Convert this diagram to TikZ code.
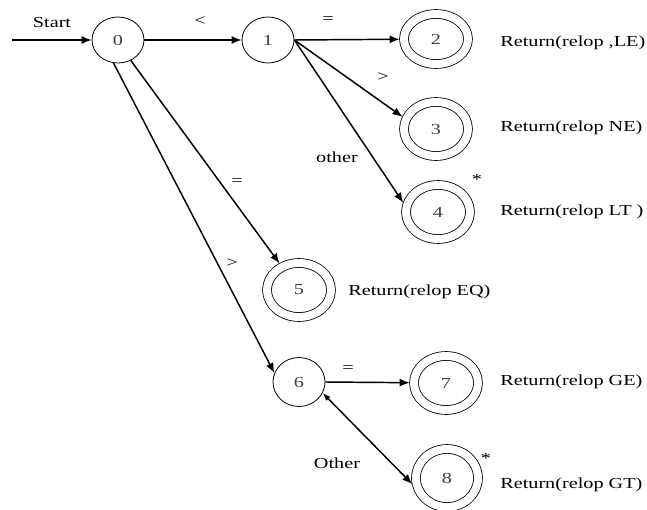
\documentclass[tikz,border=0pt]{standalone}
\usepackage{fontspec}
\setmainfont{Liberation Serif}[FakeStretch=1.32]
\usetikzlibrary{shapes.geometric,arrows.meta}
\begin{document}
\begin{tikzpicture}[x=0.75pt,y=-0.75pt,
  every node/.style={font=\fontsize{11.5}{13}\selectfont},
  state/.style={ellipse, draw, line width=0.6pt, minimum width=39pt,
    minimum height=34.5pt, inner sep=0pt, text=black!75},
  accept/.style={ellipse, draw, line width=0.6pt, double, double distance=6pt,
    minimum width=48pt, minimum height=40.5pt, inner sep=0pt, outer sep=3.3pt,
    text=black!75},
  trans/.style={line width=1.1pt, -{Latex[length=7.5pt,width=6pt]}},
  lbl/.style={inner sep=0pt},
  ret/.style={anchor=west, inner sep=0pt}]
\useasboundingbox (0,0) rectangle (647,510);

% states
\node[state] (n0) at (118,40) {0};
\node[state] (n1) at (268,40) {1};
\node[accept, minimum height=37.5pt] (n2) at (436,39) {2};
\node[accept] (n3) at (436,129) {3};
\node[accept] (n4) at (438,212) {4};
\node[accept] (n5) at (299,290) {5};
\node[state, minimum height=36.75pt] (n6) at (299,382) {6};
\node[accept] (n7) at (446,383) {7};
\node[accept, minimum width=46.5pt, minimum height=43.5pt] (n8) at (447,478) {8};

% start arrow
\coordinate (s) at (12,40);
\draw[trans] (s) -- (n0.west);
\node[lbl] (lstart) at (52,22) {Start};

% transitions
\draw[trans] (n0) -- (n1);
\draw[trans] (n1.east) -- (n2);
\draw[trans] (n1.east) -- (n3.160);
\draw[trans] (n1.east) -- (n4.165);
\draw[trans] (n0.302) -- (n5);
\draw[trans] (n0.259) -- (n6.160);
\draw[trans] (n6.east) -- (n7);
\draw[line width=1.1pt, {Latex[length=6pt,width=4.5pt]}-{Latex[length=7.5pt,width=6pt]}]
  (n6.335) -- (n8.190);

% transition labels
\node[lbl] (llt) at (200,21) {<};
\node[lbl] (leq1) at (328,20) {=};
\node[lbl] (lgt1) at (383,77) {>};
\node[lbl] (loth1) at (337,157) {other};
\node[lbl] (leq0) at (237,182) {=};
\node[lbl] (lgt0) at (232,263) {>};
\node[lbl] (leq6) at (348,369) {=};
\node[lbl] (loth6) at (337,463) {Other};

% retraction marks
\node[lbl] (st4) at (477,179) {*};
\node[lbl] (st8) at (486,458) {*};

% actions
\node[ret] (r2) at (500,43) {Return(relop ,LE)};
\node[ret] (r3) at (500,128) {Return(relop NE)};
\node[ret] (r4) at (500,212) {Return(relop LT )};
\node[ret] (r5) at (348,292) {Return(relop EQ)};
\node[ret] (r7) at (500,382) {Return(relop GE)};
\node[ret] (r8) at (500,485) {Return(relop GT)};
\end{tikzpicture}
\end{document}
